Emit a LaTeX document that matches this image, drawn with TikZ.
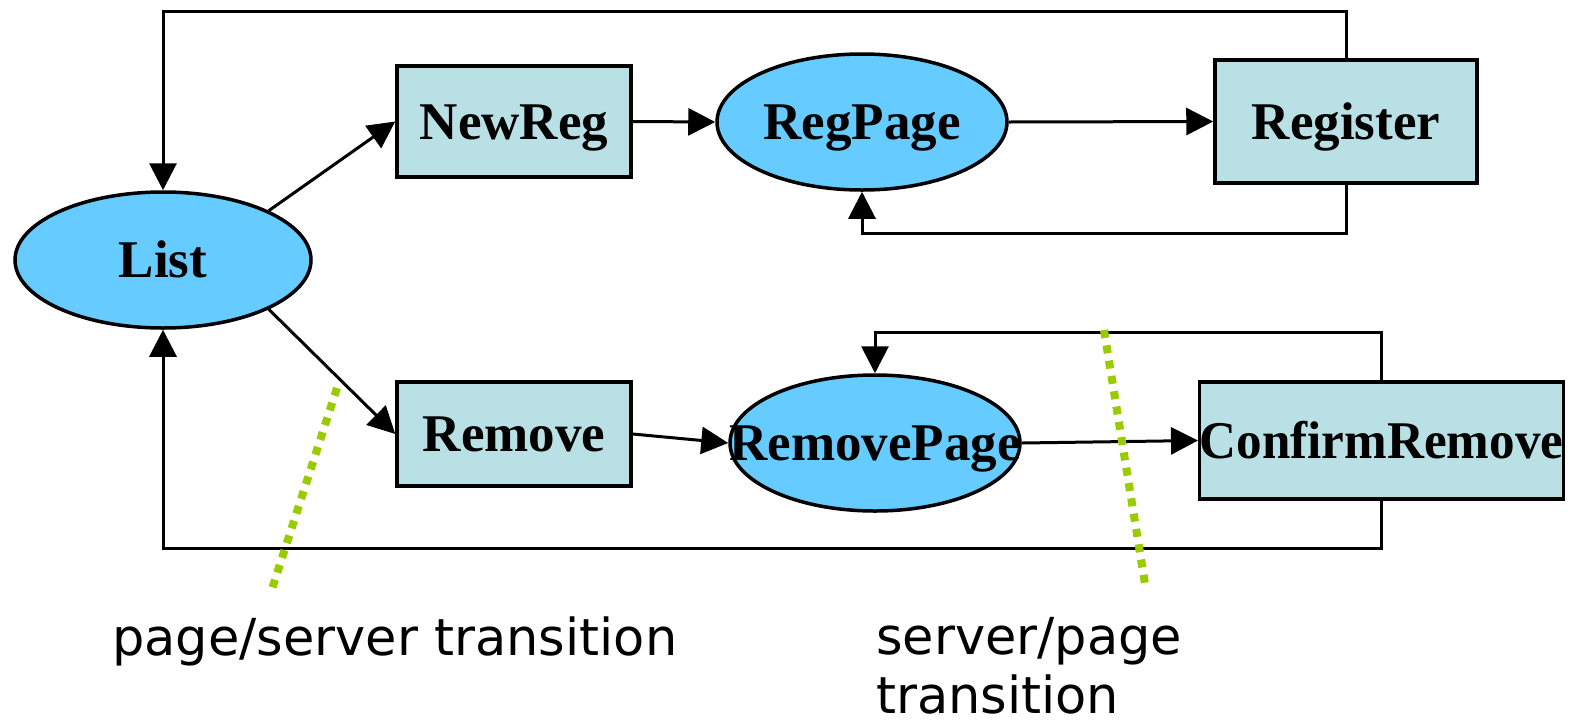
\documentclass[tikz,border=0pt]{standalone}
\usepackage{fontspec}
\setmainfont{Liberation Serif}
\newfontfamily\notefont{DejaVu Sans}
\usetikzlibrary{shapes.geometric,arrows.meta}
\definecolor{pagefill}{RGB}{102,204,255}
\definecolor{serverfill}{RGB}{185,224,228}
\definecolor{transgreen}{RGB}{153,204,0}

\begin{document}
\begin{tikzpicture}[x=1pt,y=-1pt,
  statetext/.style={font=\fontsize{53}{60}\selectfont\bfseries, text height=35pt, text depth=0pt},
  pagenode/.style={ellipse, draw, line width=3.5pt, fill=pagefill, inner sep=0pt,
    minimum height=136pt, statetext},
  servernode/.style={rectangle, draw, line width=3.5pt, fill=serverfill, inner sep=0pt,
    statetext},
  flow/.style={line width=3pt, -{Triangle[length=27pt,width=27pt]}},
  boundary/.style={transgreen, line width=8pt, dash pattern=on 8pt off 7.5pt},
  note/.style={font=\notefont\fontsize{51}{58}\selectfont, inner sep=0pt, anchor=base west}]

\useasboundingbox (0,0) rectangle (1577,721);

% page (ellipse) and server (box) states; ellipse text is zero-width so it
% does not widen the fixed-size ellipse
\node[pagenode, minimum width=296pt] (List) at (163,260) {\makebox[0pt]{List}};
\node[servernode, minimum width=234pt, minimum height=111pt] (NewReg) at (514,121.5) {NewReg};
\node[pagenode, minimum width=290pt] (RegPage) at (862,122) {\makebox[0pt]{RegPage}};
\node[servernode, minimum width=262pt, minimum height=123pt] (Register) at (1346,121.5) {Register};
\node[servernode, minimum width=234pt, minimum height=104pt] (Remove) at (514,434) {Remove};
\node[pagenode, minimum width=290pt] (RemovePage) at (875,443) {\makebox[0pt]{RemovePage}};
\node[servernode, minimum width=361pt, minimum height=117pt] (ConfirmRemove) at (1381.5,440.5)
  {\scalebox{0.965}[1]{ConfirmRemove}};

% levels of the routed return paths
\coordinate (topline) at (0,11);
\coordinate (regloop) at (0,233);
\coordinate (rmloop) at (0,332);
\coordinate (bottomline) at (0,548);

% registration branch
\draw[flow] (List.25) -- (NewReg.west);
\draw[flow] (NewReg.east) -- (RegPage.west);
\draw[flow] (RegPage.east) -- (Register.west);
\draw[flow] (Register.north) -- (Register.north |- topline) -- (List.north |- topline) -- (List.north);
\draw[flow] (Register.south) -- (Register.south |- regloop) -- (RegPage.south |- regloop) -- (RegPage.south);

% removal branch
\draw[flow] (List.-25) -- (Remove.west);
\draw[flow] (Remove.east) -- (RemovePage.west);
\draw[flow] (RemovePage.east) -- (ConfirmRemove.west);
\draw[flow] (ConfirmRemove.north) -- (ConfirmRemove.north |- rmloop) -- (RemovePage.north |- rmloop) -- (RemovePage.north);
\draw[flow] (ConfirmRemove.south) -- (ConfirmRemove.south |- bottomline) -- (List.south |- bottomline) -- (List.south);

% transition markers
\draw[boundary] (337,388) -- (271,592);
\draw[boundary] (1104,330) -- (1146,590);

\node[note] (pstrans) at (112,655) {page/server transition};
\node[note] (sptrans1) at (876,654) {server/page};
\node[note] (sptrans2) at (876,713) {transition};
\end{tikzpicture}
\end{document}
